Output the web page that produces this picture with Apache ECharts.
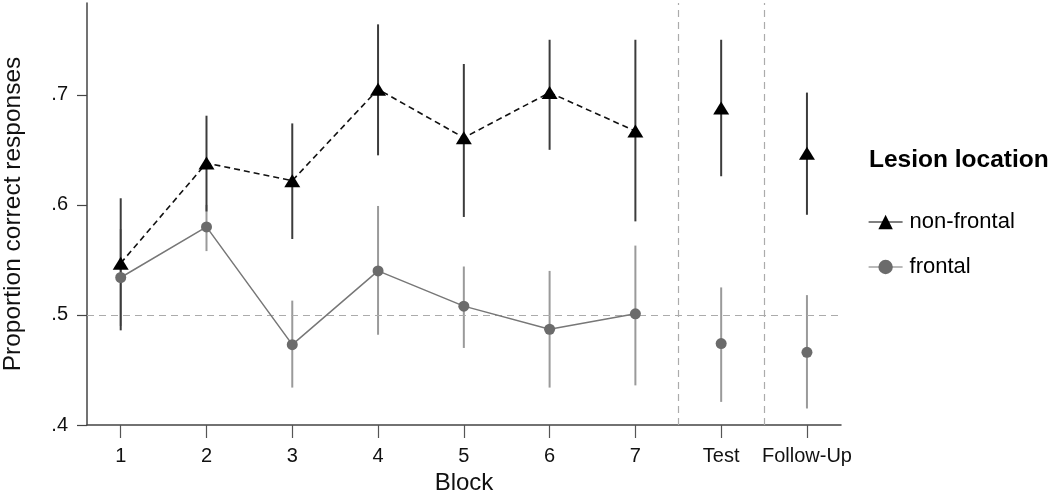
<!DOCTYPE html>
<html>
<head>
<meta charset="utf-8">
<script src="https://cdn.jsdelivr.net/npm/echarts@6/dist/echarts.min.js"></script>
<style>
html,body{margin:0;padding:0;background:#fff;}
#chart{width:1050px;height:495px;}
</style>
</head>
<body>
<div id="chart"></div>
<script>
// Block positions and their labels
var blockPositions = [1, 2, 3, 4, 5, 6, 7, 8, 9];
var blockLabels = ['1', '2', '3', '4', '5', '6', '7', 'Test', 'Follow-Up'];
var yTicks = [0.4, 0.5, 0.6, 0.7];

// non-frontal (triangles) means and CI bounds
var nonFrontalMean = [0.547, 0.638, 0.622, 0.705, 0.661, 0.702, 0.667, 0.688, 0.647];
var nonFrontalLow  = [0.486, 0.594, 0.569, 0.645, 0.589, 0.650, 0.585, 0.626, 0.591];
var nonFrontalHigh = [0.606, 0.681, 0.674, 0.764, 0.728, 0.750, 0.750, 0.750, 0.702];

// frontal (grey circles) means and CI bounds
var frontalMean = [0.534, 0.580, 0.473, 0.540, 0.508, 0.487, 0.501, 0.474, 0.466];
var frontalLow  = [0.490, 0.558, 0.434, 0.482, 0.470, 0.434, 0.436, 0.421, 0.415];
var frontalHigh = [0.578, 0.600, 0.513, 0.599, 0.544, 0.540, 0.563, 0.525, 0.518];

var trainingCount = 7; // blocks 1-7 are connected by lines

function pairs(xs, ys, from, to) {
  var out = [];
  for (var i = from; i < to; i++) out.push([xs[i], ys[i]]);
  return out;
}
function bars(xs, lo, hi) {
  var out = [];
  for (var i = 0; i < xs.length; i++) out.push([xs[i], lo[i], hi[i]]);
  return out;
}
function barRenderer(color) {
  return function (params, api) {
    var x = api.value(0);
    var p1 = api.coord([x, api.value(1)]);
    var p2 = api.coord([x, api.value(2)]);
    return {
      type: 'line',
      shape: { x1: p1[0], y1: p1[1], x2: p2[0], y2: p2[1] },
      style: { stroke: color, lineWidth: 2 }
    };
  };
}

var FONT = '"Liberation Sans", Arial, Helvetica, sans-serif';
var chart = echarts.init(document.getElementById('chart'), null, { renderer: 'canvas' });

var triSize = [16, 13];
var circSize = 11;
var frontalColor = '#6b6b6b';

chart.setOption({
  animation: false,
  backgroundColor: '#ffffff',
  textStyle: { fontFamily: FONT },
  title: {
    text: 'Lesion location',
    left: 864, top: 143,
    textStyle: { fontFamily: FONT, fontSize: 24.5, fontWeight: 'bold', color: '#000' }
  },
  legend: {
    orient: 'vertical',
    left: 863, top: 206,
    itemWidth: 34, itemHeight: 18, itemGap: 23,
    textStyle: { fontFamily: FONT, fontSize: 22, color: '#000', padding: [0, 0, 0, 2] },
    data: [
      { name: 'non-frontal', itemStyle: { color: '#000' }, lineStyle: { type: 'solid', color: '#000', width: 1.2 } },
      { name: 'frontal', itemStyle: { color: frontalColor }, lineStyle: { type: 'solid', color: '#777', width: 1.2 } }
    ]
  },
  grid: { left: 87, right: 209, top: 3, bottom: 70, containLabel: false, outerBoundsMode: 'none' },
  xAxis: {
    type: 'value',
    min: 0.607, max: 9.397,
    name: 'Block',
    nameLocation: 'middle',
    nameGap: 45,
    nameTextStyle: { fontFamily: FONT, fontSize: 24, color: '#111' },
    axisLine: { show: true, onZero: false, lineStyle: { color: '#444', width: 1.5 } },
    axisTick: { show: true, length: 13, customValues: blockPositions, lineStyle: { color: '#555', width: 1.2 } },
    axisLabel: {
      customValues: blockPositions,
      margin: 21,
      fontFamily: FONT, fontSize: 20, color: '#111',
      formatter: function (v) { return blockLabels[Math.round(v) - 1] || ''; }
    },
    splitLine: { show: false }
  },
  yAxis: {
    type: 'value',
    min: 0.4, max: 0.7834,
    name: 'Proportion correct responses',
    nameLocation: 'middle',
    nameGap: 61,
    nameTextStyle: { fontFamily: FONT, fontSize: 24.5, color: '#111' },
    axisLine: { show: true, onZero: false, lineStyle: { color: '#444', width: 1.5 } },
    axisTick: { show: true, length: 10, customValues: yTicks, lineStyle: { color: '#444', width: 1.2 } },
    axisLabel: {
      customValues: yTicks,
      margin: 19,
      fontFamily: FONT, fontSize: 20, color: '#111',
      formatter: function (v) { return String(Math.round(v * 10) / 10).replace(/^0/, ''); }
    },
    splitLine: { show: false }
  },
  series: [
    {
      type: 'custom',
      name: 'frontal-ci',
      renderItem: barRenderer('#9a9a9a'),
      encode: { x: 0, y: [1, 2] },
      data: bars(blockPositions, frontalLow, frontalHigh),
      z: 2, silent: true
    },
    {
      type: 'custom',
      name: 'non-frontal-ci',
      renderItem: barRenderer('#3c3c3c'),
      encode: { x: 0, y: [1, 2] },
      data: bars(blockPositions, nonFrontalLow, nonFrontalHigh),
      z: 3, silent: true
    },
    {
      type: 'line',
      name: 'frontal',
      data: pairs(blockPositions, frontalMean, 0, trainingCount),
      symbol: 'circle', symbolSize: circSize,
      itemStyle: { color: frontalColor, opacity: 1 },
      lineStyle: { color: '#777', width: 1.5, type: 'solid' },
      z: 5,
      markLine: {
        silent: true, symbol: 'none', label: { show: false },
        lineStyle: { color: '#ababab', width: 1.2, type: [7, 5] },
        data: [{ yAxis: 0.5 }, { xAxis: 7.5 }, { xAxis: 8.5 }]
      }
    },
    {
      type: 'scatter',
      name: 'frontal',
      data: pairs(blockPositions, frontalMean, trainingCount, blockPositions.length),
      symbol: 'circle', symbolSize: circSize,
      itemStyle: { color: frontalColor, opacity: 1 },
      z: 5
    },
    {
      type: 'line',
      name: 'non-frontal',
      data: pairs(blockPositions, nonFrontalMean, 0, trainingCount),
      symbol: 'triangle', symbolSize: triSize,
      itemStyle: { color: '#000', opacity: 1 },
      lineStyle: { color: '#111', width: 1.6, type: [6, 4] },
      z: 6
    },
    {
      type: 'scatter',
      name: 'non-frontal',
      data: pairs(blockPositions, nonFrontalMean, trainingCount, blockPositions.length),
      symbol: 'triangle', symbolSize: triSize,
      itemStyle: { color: '#000', opacity: 1 },
      z: 6
    }
  ]
});
</script>
</body>
</html>
